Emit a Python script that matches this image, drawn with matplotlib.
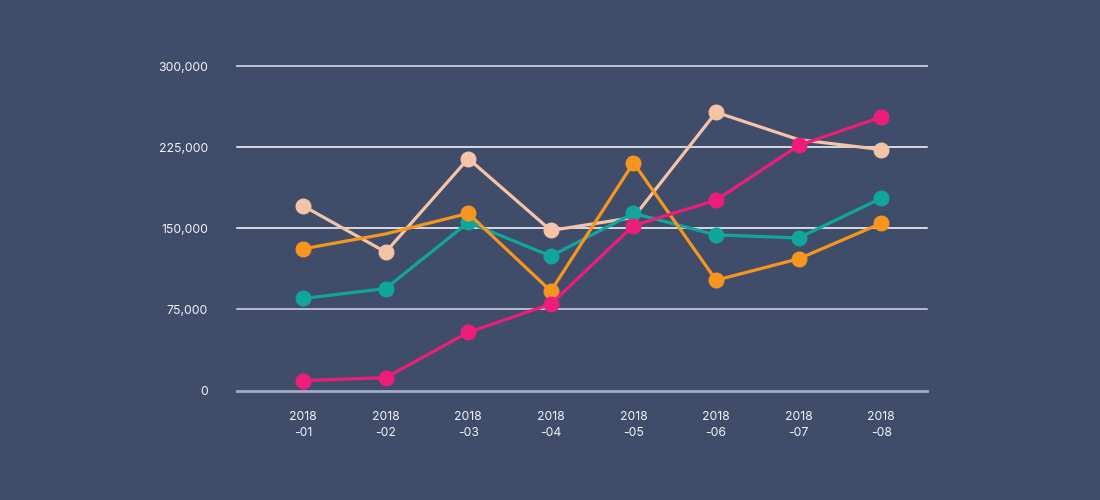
import matplotlib
matplotlib.use("Agg")
import matplotlib.pyplot as plt

# data
months = ["2018\n-01", "2018\n-02", "2018\n-03", "2018\n-04",
          "2018\n-05", "2018\n-06", "2018\n-07", "2018\n-08"]
peach = [170800, 128000, 214500, 148000, 160000, 257300, 232000, 222800]
teal = [85100, 94300, 155500, 124300, 163800, 143900, 141100, 177800]
orange = [131000, 144800, 163800, 91900, 210600, 102000, 121800, 154600]
pink = [9100, 11900, 53800, 80000, 152500, 176000, 226600, 252900]
y_ticks = [0, 75000, 150000, 225000, 300000]

BG = "#3f4d6b"
series = [
    (peach, "#f5c3a6", [0, 1, 2, 3, 5, 7]),
    (teal, "#11a69b", list(range(8))),
    (orange, "#f7961f", [0, 2, 3, 4, 5, 6, 7]),
    (pink, "#ec1e79", list(range(8))),
]

fig = plt.figure(figsize=(11, 5), dpi=100, facecolor=BG)
ax = fig.add_axes([237 / 1100, (500 - 390.5) / 500, 689.7 / 1100, 324.4 / 500])
ax.set_facecolor(BG)

x = list(range(len(months)))
grid_colors = ["#a3abc6", "#d6d9e6", "#ffffff", "#ffffff", "#c9cde0"]
grid_widths = [2.0, 1.1, 1.1, 1.1, 1.3]
for val, c, lw in zip(y_ticks, grid_colors, grid_widths):
    ax.axhline(val, color=c, linewidth=lw, clip_on=False, zorder=1)

for i, (vals, color, marks) in enumerate(series):
    ax.plot(x, vals, color=color, linewidth=2.3, marker="o", markersize=10.5,
            markevery=marks, zorder=3 + i)

ax.set_xlim(-0.8, 7.55)
ax.set_ylim(0, 300000)
ax.set_xticks(x)
ax.set_xticklabels(months, fontsize=8.8, color="#f2f3f7", family="Inter",
                   linespacing=1.45)
ax.set_yticks(y_ticks)
ax.set_yticklabels([f"{v:,}" for v in y_ticks], fontsize=8.8, color="#f2f3f7",
                   family="Inter")
ax.tick_params(axis="x", length=0, pad=15)
ax.tick_params(axis="y", length=0, pad=21)
for s in ax.spines.values():
    s.set_visible(False)

fig.savefig("out.png", dpi=100, facecolor=BG)
